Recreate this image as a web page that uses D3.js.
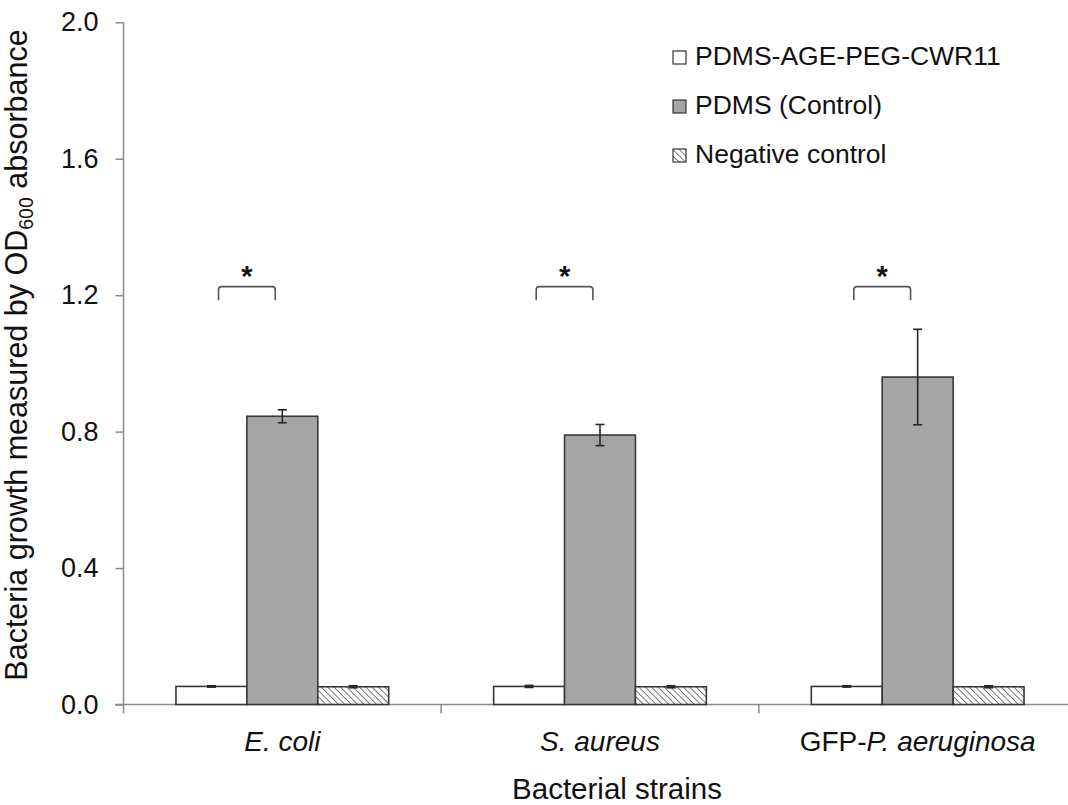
<!DOCTYPE html>
<html>
<head>
<meta charset="utf-8">
<script src="https://cdn.jsdelivr.net/npm/d3@7"></script>
<style>
  html, body { margin: 0; padding: 0; background: #fff; }
  svg { display: block; }
  text { font-family: "Liberation Sans", Arial, sans-serif; fill: #111; }
</style>
</head>
<body>
<svg id="chart" width="1068" height="805"></svg>
<script>
// Bacterial strains on the x axis
const categories = ["E. coli", "S. aureus", "GFP-P. aeruginosa"];
// Surface types (one bar per strain each)
const seriesNames = ["PDMS-AGE-PEG-CWR11", "PDMS (Control)", "Negative control"];
// OD600 means and standard deviations
const coatedValues   = [0.053, 0.053, 0.053];
const coatedErrors   = [0.002, 0.003, 0.002];
const controlValues  = [0.845, 0.790, 0.960];
const controlErrors  = [0.019, 0.031, 0.140];
const negativeValues = [0.052, 0.052, 0.052];
const negativeErrors = [0.003, 0.003, 0.003];
// y-axis ticks
const yTicks = [0, 0.4, 0.8, 1.2, 1.6, 2.0];
// significance brackets (PDMS-AGE-PEG-CWR11 vs PDMS control)
const sigLabels = ["*", "*", "*"];
const sigLevel = 1.225;

const svg = d3.select("#chart");

const y = d3.scaleLinear().domain([0, 2]).range([704.5, 22.3]);
const x0 = d3.scaleBand().domain(categories).range([123.5, 1076.5]).padding(0);
const x1 = d3.scaleBand().domain(seriesNames).range([0, x0.bandwidth()])
  .paddingInner(0).paddingOuter(0.74);

const values = [coatedValues, controlValues, negativeValues];
const errors = [coatedErrors, controlErrors, negativeErrors];

// hatch pattern for the negative control (lines falling left to right)
const defs = svg.append("defs");
const pat = defs.append("pattern")
  .attr("id", "hatch").attr("patternUnits", "userSpaceOnUse")
  .attr("width", 4.5).attr("height", 4.5)
  .attr("patternTransform", "rotate(-45)");
pat.append("rect").attr("width", 4.5).attr("height", 4.5).attr("fill", "#fff");
pat.append("line").attr("x1", 0).attr("y1", 0).attr("x2", 0).attr("y2", 4.5)
  .attr("stroke", "#333").attr("stroke-width", 1.3);

const fills = ["#ffffff", "#a6a6a6", "url(#hatch)"];

// axes
const axisColor = "#8a8a8a";
const yAxis = svg.append("g").attr("transform", "translate(123.5,0)")
  .call(d3.axisLeft(y).tickValues(yTicks).tickFormat(d3.format(".1f")).tickSize(8).tickPadding(17));
yAxis.select(".domain").attr("stroke", axisColor).attr("stroke-width", 1.5).attr("d", `M0,${y(2)}V${y(0)+9}`);
yAxis.selectAll(".tick line").attr("stroke", axisColor).attr("stroke-width", 1.5);
yAxis.selectAll(".tick text").attr("font-size", 27).attr("fill", "#111")
  .style("font-family", '"Liberation Sans", Arial, sans-serif');

const xAxis = svg.append("g").attr("transform", `translate(0,${y(0)})`)
  .call(d3.axisBottom(x0).tickValues([]).tickSizeOuter(0));
xAxis.select(".domain").attr("stroke", axisColor).attr("stroke-width", 1.5)
  .attr("d", `M115,0H1076`);
// boundary ticks between strains
svg.append("g").selectAll("line")
  .data(categories.slice(1))
  .join("line")
  .attr("x1", d => x0(d)).attr("x2", d => x0(d))
  .attr("y1", y(0)).attr("y2", y(0) + 9)
  .attr("stroke", axisColor).attr("stroke-width", 1.5);

// bars
const groups = svg.append("g").selectAll("g")
  .data(categories)
  .join("g")
  .attr("transform", d => `translate(${x0(d)},0)`);

groups.each(function(cat, ci) {
  const g = d3.select(this);
  seriesNames.forEach((s, si) => {
    const v = values[si][ci];
    g.append("rect")
      .attr("x", x1(s)).attr("width", x1.bandwidth())
      .attr("y", y(v)).attr("height", y(0) - y(v))
      .attr("fill", fills[si]).attr("stroke", "#383838").attr("stroke-width", 1.6);
  });
});

// error bars
groups.each(function(cat, ci) {
  const g = d3.select(this);
  seriesNames.forEach((s, si) => {
    const v = values[si][ci], e = errors[si][ci];
    const cx = x1(s) + x1.bandwidth() / 2;
    const eg = g.append("g").attr("stroke", "#262626").attr("stroke-width", 1.6);
    eg.append("line").attr("x1", cx).attr("x2", cx).attr("y1", y(v + e)).attr("y2", y(v - e));
    [v + e, v - e].forEach(t => {
      eg.append("line").attr("x1", cx - 4.5).attr("x2", cx + 4.5).attr("y1", y(t)).attr("y2", y(t));
    });
  });
});

// significance brackets
groups.each(function(cat, ci) {
  const g = d3.select(this);
  const bw = x1.bandwidth();
  const xa = x1(seriesNames[0]) + bw * 0.6;
  const xb = x1(seriesNames[1]) + bw * 0.4;
  const yt = y(sigLevel), yb = y(sigLevel - 0.04), r = 3;
  const p = d3.path();
  p.moveTo(xa, yb); p.lineTo(xa, yt + r);
  p.quadraticCurveTo(xa, yt, xa + r, yt);
  p.lineTo(xb - r, yt);
  p.quadraticCurveTo(xb, yt, xb, yt + r);
  p.lineTo(xb, yb);
  g.append("path").attr("d", p.toString()).attr("fill", "none")
    .attr("stroke", "#555").attr("stroke-width", 1.6);
  g.append("text").attr("x", (xa + xb) / 2).attr("y", yt - 1)
    .attr("text-anchor", "middle").attr("font-size", 29).attr("font-weight", "bold")
    .text(sigLabels[ci]);
});

// category labels (species names italic)
const catLabels = svg.append("g").selectAll("text")
  .data(categories)
  .join("text")
  .attr("x", d => x0(d) + x0.bandwidth() / 2)
  .attr("y", 751)
  .attr("text-anchor", "middle")
  .attr("font-size", 28);
catLabels.each(function(d) {
  const t = d3.select(this);
  if (d.startsWith("GFP-")) {
    t.append("tspan").text("GFP-");
    t.append("tspan").attr("font-style", "italic").text(d.slice(4));
  } else {
    t.append("tspan").attr("font-style", "italic").text(d);
  }
});

// axis titles
svg.append("text").attr("x", 617).attr("y", 799)
  .attr("text-anchor", "middle").attr("font-size", 29.5)
  .text("Bacterial strains");

const yt = svg.append("text")
  .attr("transform", "translate(27,355) rotate(-90)")
  .attr("text-anchor", "middle").attr("font-size", 30.5);
yt.append("tspan").text("Bacteria growth measured by OD");
yt.append("tspan").attr("font-size", 19.5).attr("dy", 6).text("600");
yt.append("tspan").attr("dy", -6).text(" absorbance");

// legend
const legend = svg.append("g").selectAll("g")
  .data(seriesNames)
  .join("g")
  .attr("transform", (d, i) => `translate(673,${65 + i * 49})`);
legend.append("rect")
  .attr("x", 0).attr("y", -14).attr("width", 13).attr("height", 13)
  .attr("fill", (d, i) => fills[i]).attr("stroke", "#333").attr("stroke-width", 1.2);
legend.append("text")
  .attr("x", 22).attr("y", 0).attr("font-size", 26.5)
  .text(d => d);
</script>
</body>
</html>
